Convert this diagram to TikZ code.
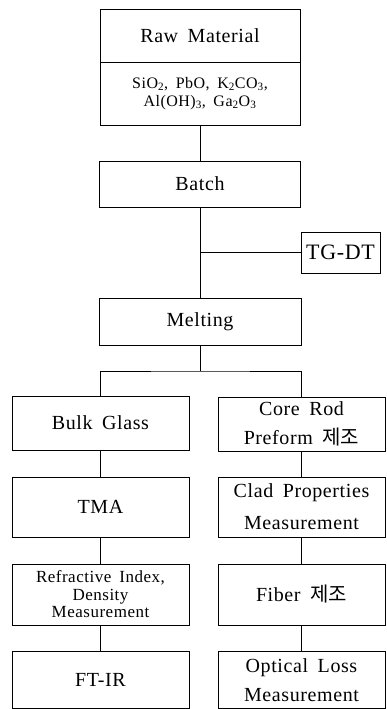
\documentclass[tikz,border=0pt]{standalone}
\usepackage{fontspec}
\setmainfont{Liberation Serif}[LetterSpace=3,WordSpace=1.7]
\newfontfamily\kor{Noto Sans CJK KR}
\usepackage{tikz}
\usetikzlibrary{positioning}

\begin{document}
\begin{tikzpicture}[x=1pt,y=-1pt,
    stepbox/.style={draw, line width=0.7pt, inner sep=0pt, align=center,
                    font=\fontsize{20}{24}\selectfont},
    leftbox/.style={stepbox, minimum width=177pt},
    rightbox/.style={stepbox, minimum width=167pt}
]
\useasboundingbox (0,0) rectangle (387,709);

% raw material, two fields
\node[stepbox, minimum width=200pt, minimum height=53pt] (rawtop) at (200,35.5) {Raw Material};
\node[stepbox, minimum width=200pt, minimum height=63pt,
      font=\fontsize{16}{18}\selectfont] (rawbot) at (200,93.5)
      {SiO\textsubscript{2}, PbO, K\textsubscript{2}CO\textsubscript{3},\\Al(OH)\textsubscript{3}, Ga\textsubscript{2}O\textsubscript{3}};

\node[stepbox, minimum width=201pt, minimum height=46pt] (batch) at (200,184) {Batch};
\node[stepbox, minimum width=79pt, minimum height=41pt,
      font=\fontsize{22}{26}\selectfont] (tgdt) at (340.5,252.5) {TG-DT};
\node[stepbox, minimum width=202pt, minimum height=47pt] (melt) at (200,321.5) {Melting};
\coordinate (split) at (200,371);

% left column
\node[leftbox, minimum height=54pt] (bulk) at (100.5,423) {Bulk Glass};
\node[leftbox, minimum height=60pt] (tma) at (100.5,507) {TMA};
\node[leftbox, minimum height=61pt, font=\fontsize{17}{17.5}\selectfont] (refr) at (100.5,594.5)
      {Refractive Index,\\Density\\Measurement};
\node[leftbox, minimum height=57pt] (ftir) at (100.5,680) {FT-IR};

% right column
\node[rightbox, minimum height=54pt, font=\fontsize{20}{29}\selectfont] (core) at (301.5,424)
      {Core Rod\\Preform {\kor 제조}};
\node[rightbox, minimum height=60pt, font=\fontsize{20}{32}\selectfont] (clad) at (301.5,507)
      {Clad Properties\\Measurement};
\node[rightbox, minimum height=61pt] (fiber) at (301.5,594.5) {Fiber {\kor 제조}};
\node[rightbox, minimum height=57pt, font=\fontsize{20}{29}\selectfont] (oloss) at (301.5,680)
      {Optical Loss\\Measurement};

\draw[line width=0.7pt] (rawbot) -- (batch);
\draw[line width=0.7pt] (batch) -- (melt);
\draw[line width=0.7pt] (tgdt) -- (tgdt -| batch);
\draw[line width=0.7pt] (melt) -- (split);
\draw[line width=0.7pt] (bulk.north) |- (split) -| (core.north);
\draw[line width=0.7pt] (bulk) -- (tma);
\draw[line width=0.7pt] (tma) -- (refr);
\draw[line width=0.7pt] (refr) -- (ftir);
\draw[line width=0.7pt] (core) -- (clad);
\draw[line width=0.7pt] (clad) -- (fiber);
\draw[line width=0.7pt] (fiber) -- (oloss);
\end{tikzpicture}
\end{document}
